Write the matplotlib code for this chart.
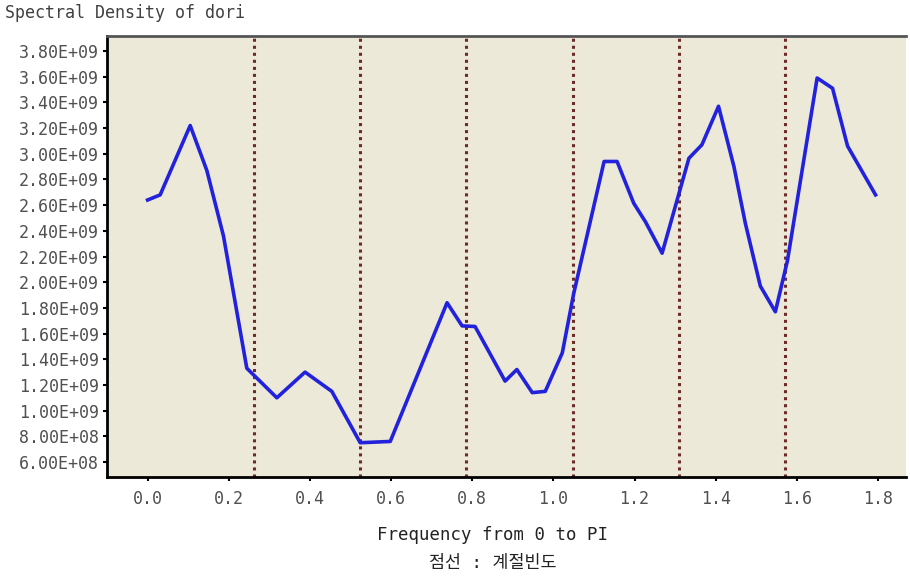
import matplotlib
matplotlib.use("Agg")
import matplotlib.pyplot as plt
from matplotlib.ticker import FuncFormatter

# spectral density of dori, vertices
freq = [0.000, 0.031, 0.105, 0.146, 0.187, 0.2445, 0.3185, 0.388, 0.454,
        0.524, 0.598, 0.738, 0.775, 0.807, 0.881, 0.910, 0.948, 0.980,
        1.022, 1.050, 1.125, 1.157, 1.198, 1.227, 1.268, 1.334, 1.366,
        1.407, 1.445, 1.473, 1.510, 1.547, 1.577, 1.650, 1.688, 1.725,
        1.794]
density = [2.64e9, 2.68e9, 3.22e9, 2.87e9, 2.36e9, 1.33e9, 1.10e9, 1.30e9,
           1.15e9, 0.75e9, 0.76e9, 1.84e9, 1.66e9, 1.655e9, 1.23e9, 1.32e9,
           1.14e9, 1.15e9, 1.45e9, 1.91e9, 2.94e9, 2.94e9, 2.615e9, 2.47e9,
           2.226e9, 2.965e9, 3.07e9, 3.37e9, 2.90e9, 2.46e9, 1.97e9, 1.77e9,
           2.17e9, 3.59e9, 3.51e9, 3.06e9, 2.68e9]

# seasonal frequencies (pi*k/12)
seasonal = [0.2618, 0.5236, 0.7854, 1.0472, 1.3090, 1.5708]

x_ticks = [0.0, 0.2, 0.4, 0.6, 0.8, 1.0, 1.2, 1.4, 1.6, 1.8]
y_ticks = [6e8, 8e8, 1.0e9, 1.2e9, 1.4e9, 1.6e9, 1.8e9, 2.0e9, 2.2e9, 2.4e9,
           2.6e9, 2.8e9, 3.0e9, 3.2e9, 3.4e9, 3.6e9, 3.8e9]

mono = ['DejaVu Sans Mono', 'Noto Sans CJK KR']
grey = '#505050'

fig = plt.figure(figsize=(9.1, 5.78), dpi=100)
ax = fig.add_axes([0.1176, 0.1747, 0.8780, 0.7630])
ax.set_facecolor('#ECE9D8')

for f in seasonal:
    ax.axvline(f, color='#6E2A26', lw=2.2, linestyle=(0, (1, 1.3)), zorder=2)

ax.plot(freq, density, color='#2222DD', lw=2.6, zorder=3)

ax.set_xlim(-0.1, 1.869)
ax.set_ylim(4.83e8, 3.917e9)
ax.set_xticks(x_ticks)
ax.set_yticks(y_ticks)
ax.xaxis.set_major_formatter(FuncFormatter(lambda v, p: '%.1f' % v))
ax.yaxis.set_major_formatter(FuncFormatter(lambda v, p: '%.2E' % v))
ax.tick_params(axis='both', direction='out', length=3, width=1.5,
               colors='black', labelcolor=grey, labelsize=12)
ax.tick_params(axis='x', pad=6)
ax.tick_params(axis='y', pad=3)
for lab in ax.get_xticklabels() + ax.get_yticklabels():
    lab.set_family(mono)

ax.spines['right'].set_visible(False)
ax.spines['top'].set_color('#555555')
ax.spines['top'].set_linewidth(2)
ax.spines['left'].set_linewidth(2)
ax.spines['bottom'].set_linewidth(2)

fig.text(0.006, 0.978, 'Spectral Density of dori', family=mono,
         fontsize=12, color='#404040', va='center', ha='left')
fig.text(0.541, 0.074, 'Frequency from 0 to PI', family=mono,
         fontsize=12.5, color='#222222', ha='center', va='center')
fig.text(0.541, 0.026, '점선 : 계절빈도', family=mono,
         fontsize=12.5, color='#222222', ha='center', va='center')

fig.savefig('out.png', dpi=100)
